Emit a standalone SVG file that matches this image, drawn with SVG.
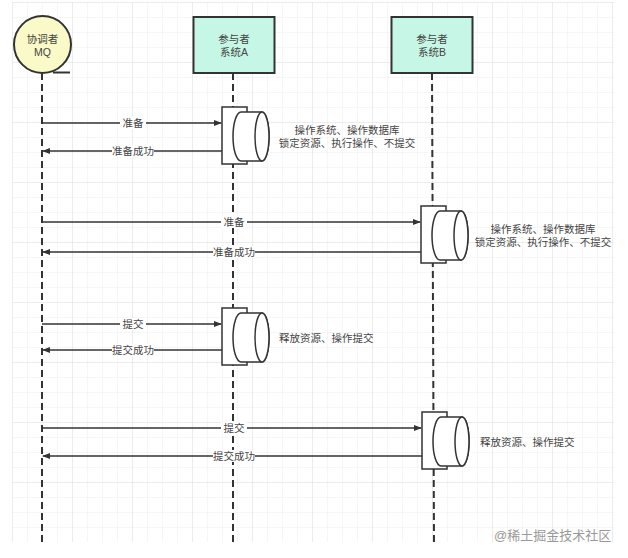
<svg xmlns="http://www.w3.org/2000/svg" width="628" height="558" viewBox="0 0 628 558">
<style>
.t{font-family:"Liberation Sans","Noto Sans CJK SC",sans-serif;font-size:10.5px;fill:#444;text-anchor:middle}
.tl{font-family:"Liberation Sans","Noto Sans CJK SC",sans-serif;font-size:10.5px;fill:#444}
.life{stroke:#333;stroke-width:2;stroke-dasharray:7 4;fill:none}
.msg{stroke:#333;stroke-width:1.5;fill:none}
.lb{fill:#fff}
.act{fill:#fff;stroke:#333;stroke-width:1.5}
</style>
<defs>
<pattern id="minor" width="15" height="15" patternUnits="userSpaceOnUse" x="12" y="2">
<path d="M15 0H0V15" fill="none" stroke="#eeeeee" stroke-width="1"/>
</pattern>
<pattern id="major" width="60" height="60" patternUnits="userSpaceOnUse" x="12" y="2">
<path d="M60 0H0V60" fill="none" stroke="#e2e2e2" stroke-width="1"/>
</pattern>
<marker id="arr" viewBox="0 0 10 10" refX="9" refY="5" markerWidth="8" markerHeight="8" markerUnits="userSpaceOnUse" orient="auto">
<path d="M0 1L10 5L0 9Z" fill="#333"/>
</marker>
<g id="activation">
<rect class="act" x="0" y="0" width="25" height="57"/>
<path class="act" d="M19 5H40A7 24.5 0 0 1 40 54H19A8 24.5 0 0 1 19 5Z"/>
<ellipse class="act" cx="40" cy="29.5" rx="7" ry="24.5"/>
</g>
</defs>
<rect width="628" height="558" fill="#fff"/>
<rect x="12" y="2" width="602" height="540" fill="url(#minor)"/>
<rect x="12" y="2" width="602" height="540" fill="url(#major)"/>

<g id="lifelines">
<line class="life" x1="42" y1="73" x2="42" y2="542"/>
<line class="life" x1="233" y1="73" x2="233" y2="542"/>
<line class="life" x1="432" y1="73" x2="434" y2="542"/>
</g>

<g id="node-mq">
<circle cx="42.5" cy="44.5" r="28.5" fill="#fafac8" stroke="#333" stroke-width="2"/>
<line x1="53" y1="72.5" x2="70" y2="72.5" stroke="#333" stroke-width="2"/>
<text class="t" x="42.5" y="43">协调者</text>
<text class="t" x="42.5" y="56">MQ</text>
</g>

<g id="node-a">
<rect x="193.5" y="17" width="81" height="56" fill="#c6f7e6" stroke="#333" stroke-width="2"/>
<text class="t" x="234" y="43">参与者</text>
<text class="t" x="234" y="56">系统A</text>
</g>

<g id="node-b">
<rect x="391.5" y="17" width="81" height="56" fill="#c6f7e6" stroke="#333" stroke-width="2"/>
<text class="t" x="432" y="43">参与者</text>
<text class="t" x="432" y="56">系统B</text>
</g>

<g id="act-a1"><use href="#activation" transform="translate(222,107)"/></g>
<g id="act-b1"><use href="#activation" transform="translate(421,206)"/></g>
<g id="act-a2"><use href="#activation" transform="translate(222,308)"/></g>
<g id="act-b2"><use href="#activation" transform="translate(422,412)"/></g>

<g id="connectors">
<line class="msg" x1="42" y1="123" x2="221" y2="123" marker-end="url(#arr)"/>
<line class="msg" x1="222" y1="151" x2="43" y2="151" marker-end="url(#arr)"/>
<line class="msg" x1="42" y1="222" x2="420" y2="222" marker-end="url(#arr)"/>
<line class="msg" x1="421" y1="252" x2="43" y2="252" marker-end="url(#arr)"/>
<line class="msg" x1="42" y1="324" x2="221" y2="324" marker-end="url(#arr)"/>
<line class="msg" x1="222" y1="350" x2="43" y2="350" marker-end="url(#arr)"/>
<line class="msg" x1="42" y1="428" x2="421" y2="428" marker-end="url(#arr)"/>
<line class="msg" x1="422" y1="456" x2="43" y2="456" marker-end="url(#arr)"/>

<rect class="lb" x="120" y="117" width="26" height="12"/>
<text class="t" x="133" y="127">准备</text>
<rect class="lb" x="112" y="145" width="42" height="12"/>
<text class="t" x="133" y="155">准备成功</text>
<rect class="lb" x="221" y="216" width="26" height="12"/>
<text class="t" x="234" y="226">准备</text>
<rect class="lb" x="213" y="246" width="42" height="12"/>
<text class="t" x="234" y="256">准备成功</text>
<rect class="lb" x="120" y="318" width="26" height="12"/>
<text class="t" x="133" y="328">提交</text>
<rect class="lb" x="112" y="344" width="42" height="12"/>
<text class="t" x="133" y="354">提交成功</text>
<rect class="lb" x="221" y="422" width="26" height="12"/>
<text class="t" x="234" y="432">提交</text>
<rect class="lb" x="213" y="450" width="42" height="12"/>
<text class="t" x="234" y="460">提交成功</text>
</g>

<g id="notes">
<text class="t" x="347" y="134">操作系统、操作数据库</text>
<text class="t" x="347" y="147">锁定资源、执行操作、不提交</text>
<text class="t" x="543" y="233">操作系统、操作数据库</text>
<text class="t" x="543" y="246">锁定资源、执行操作、不提交</text>
<text class="tl" x="279" y="342">释放资源、操作提交</text>
<text class="tl" x="480" y="446">释放资源、操作提交</text>
</g>

<text x="494" y="540" font-family="Liberation Sans,'Noto Sans CJK SC',sans-serif" font-size="13" fill="#999">@稀土掘金技术社区</text>
</svg>
